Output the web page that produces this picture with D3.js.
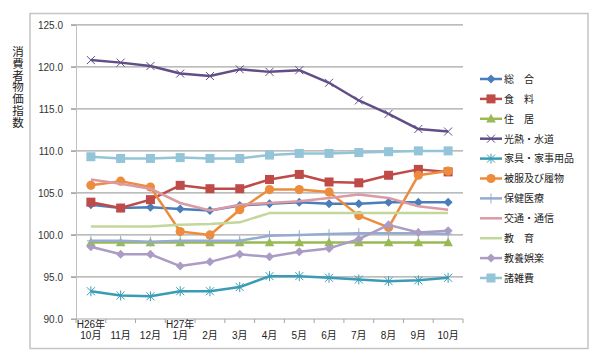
<!DOCTYPE html>
<html><head><meta charset="utf-8">
<script src="https://cdn.jsdelivr.net/npm/d3@7"></script>
<style>
html,body{margin:0;padding:0;background:#fff;}
svg{display:block;}
text{font-family:"Liberation Sans","Noto Sans CJK JP",sans-serif;}
</style></head>
<body>
<svg id="c" width="600" height="360"></svg>
<script>
// ---- data ----
const months = ["10月","11月","12月","1月","2月","3月","4月","5月","6月","7月","8月","9月","10月"];
const years  = ["H26年","","","H27年","","","","","","","","",""];
const yTicks = [90,95,100,105,110,115,120,125];
const seriesNames = ["総　合","食　料","住　居","光熱・水道","家具・家事用品","被服及び履物","保健医療","交通・通信","教　育","教養娯楽","諸雑費"];
const sogo     = [103.6,103.2,103.3,103.1,102.9,103.5,103.7,103.9,103.7,103.7,103.9,103.9,103.9];
const shokuryo = [103.9,103.2,104.2,105.9,105.5,105.5,106.6,107.2,106.3,106.2,107.1,107.8,107.5];
const jukyo    = [99.1,99.1,99.1,99.1,99.1,99.1,99.1,99.1,99.1,99.1,99.1,99.1,99.1];
const konetsu  = [120.8,120.5,120.1,119.2,118.9,119.7,119.4,119.6,118.1,116.0,114.4,112.6,112.3];
const kagu     = [93.3,92.8,92.7,93.3,93.3,93.8,95.1,95.1,94.9,94.7,94.5,94.6,94.9];
const hifuku   = [105.9,106.4,105.7,100.4,100.0,103.0,105.4,105.4,105.1,102.3,100.9,107.1,107.6];
const hoken    = [99.3,99.3,99.2,99.3,99.3,99.3,99.9,100.0,100.1,100.2,100.2,100.2,100.1];
const kotsu    = [106.6,106.1,105.5,103.8,102.9,103.6,103.8,104.0,104.4,104.8,104.4,103.4,103.0];
const kyoiku   = [101.0,101.0,101.0,101.2,101.3,101.5,102.6,102.6,102.6,102.6,102.6,102.6,102.6];
const kyoyo    = [98.6,97.7,97.7,96.3,96.8,97.7,97.4,98.0,98.4,99.5,101.2,100.3,100.5];
const shozappi = [109.3,109.1,109.1,109.2,109.1,109.1,109.5,109.7,109.7,109.8,109.9,110.0,110.0];
const seriesValues = [sogo,shokuryo,jukyo,konetsu,kagu,hifuku,hoken,kotsu,kyoiku,kyoyo,shozappi];

// ---- styles ----
const styles = [
  {color:"#4a7ebb", marker:"diamond"},
  {color:"#be4b48", marker:"square"},
  {color:"#98b954", marker:"triangle"},
  {color:"#604e86", marker:"x"},
  {color:"#3a9cb4", marker:"star"},
  {color:"#ec8c3c", marker:"circle"},
  {color:"#95abd0", marker:"plus"},
  {color:"#db9aa4", marker:"none"},
  {color:"#c3d69b", marker:"none"},
  {color:"#ab9cc6", marker:"diamond"},
  {color:"#93c4d7", marker:"square"}
];

const svg = d3.select("#c");
// outer frame
svg.append("rect").attr("x",30).attr("y",13.5).attr("width",558).attr("height",335)
  .attr("fill","#fff").attr("stroke","#c4c4c4").attr("stroke-width",1.5);

const x = d3.scaleBand().domain(d3.range(months.length)).range([76,463]);
const y = d3.scaleLinear().domain([90,125]).range([319,24.8]);
const cx = i => x(i) + x.bandwidth()/2;

// gridlines
const g = svg.append("g");
g.selectAll("line.grid").data(yTicks.filter(t=>t>90)).join("line")
  .attr("x1",71).attr("x2",463).attr("y1",d=>y(d)).attr("y2",d=>y(d))
  .attr("stroke","#a6a6a6").attr("stroke-width",1.2);

// y axis
const yAxis = d3.axisLeft(y).tickValues(yTicks).tickFormat(d3.format(".1f")).tickSize(5).tickPadding(8);
const ya = svg.append("g").attr("transform","translate(76,0)").call(yAxis);
ya.select(".domain").attr("stroke","#bfbfbf");
ya.selectAll(".tick line").attr("stroke","#a6a6a6");
ya.selectAll("text").attr("font-size",10).attr("fill","#333");

// x axis
const xa = svg.append("g").attr("transform","translate(0,319)");
xa.append("line").attr("x1",71).attr("x2",463).attr("stroke","#a6a6a6").attr("stroke-width",1.2);
xa.selectAll("line.tk").data(d3.range(months.length+1)).join("line")
  .attr("x1",i=>76+i*x.bandwidth()).attr("x2",i=>76+i*x.bandwidth())
  .attr("y1",0).attr("y2",4).attr("stroke","#a6a6a6");
xa.selectAll("text.yr").data(years).join("text")
  .attr("x",(d,i)=>cx(i)).attr("y",9).attr("text-anchor","middle")
  .attr("font-size",10).attr("fill","#222").text(d=>d);
xa.selectAll("text.mo").data(months).join("text")
  .attr("x",(d,i)=>cx(i)).attr("y",20).attr("text-anchor","middle")
  .attr("font-size",10).attr("fill","#222").text(d=>d);

// y title (vertical)
const title = "消費者物価指数";
svg.append("text").attr("font-size",11.5).attr("fill","#222")
  .attr("font-family","'Noto Sans CJK JP',sans-serif")
  .selectAll("tspan").data(Array.from(title)).join("tspan")
  .attr("x",18).attr("text-anchor","middle").attr("y",(d,i)=>56+i*11.8).text(d=>d);

function drawMarker(sel, type, color, px, py){
  const s = 4;
  if(type==="diamond"){
    sel.append("path").attr("d",`M${px},${py-4.5}L${px+4.5},${py}L${px},${py+4.5}L${px-4.5},${py}Z`).attr("fill",color);
  } else if(type==="square"){
    sel.append("rect").attr("x",px-4.5).attr("y",py-4.5).attr("width",9).attr("height",9).attr("fill",color);
  } else if(type==="triangle"){
    sel.append("path").attr("d",`M${px},${py-5}L${px+4.8},${py+3.8}L${px-4.8},${py+3.8}Z`).attr("fill",color);
  } else if(type==="circle"){
    sel.append("circle").attr("cx",px).attr("cy",py).attr("r",4.6).attr("fill",color);
  } else if(type==="x"){
    sel.append("path").attr("d",`M${px-s},${py-s}L${px+s},${py+s}M${px-s},${py+s}L${px+s},${py-s}`).attr("stroke",color).attr("stroke-width",1);
  } else if(type==="star"){
    sel.append("path").attr("d",`M${px-s},${py-s}L${px+s},${py+s}M${px-s},${py+s}L${px+s},${py-s}M${px},${py-5}L${px},${py+5}`).attr("stroke",color).attr("stroke-width",1);
  } else if(type==="plus"){
    sel.append("path").attr("d",`M${px-s},${py}L${px+s},${py}M${px},${py-5}L${px},${py+5}`).attr("stroke",color).attr("stroke-width",1);
  }
}

// series
const line = d3.line().x((d,i)=>cx(i)).y(d=>y(d));
seriesValues.forEach((vals,k)=>{
  const st = styles[k];
  const sg = svg.append("g");
  sg.append("path").attr("d",line(vals)).attr("fill","none")
    .attr("stroke",st.color).attr("stroke-width",2.5).attr("stroke-linejoin","round");
  vals.forEach((v,i)=>drawMarker(sg, st.marker, st.color, cx(i), y(v)));
});

// legend
const lg = svg.append("g");
seriesNames.forEach((name,k)=>{
  const st = styles[k];
  const ly = 79 + k*19.9;
  lg.append("line").attr("x1",480).attr("x2",502).attr("y1",ly).attr("y2",ly)
    .attr("stroke",st.color).attr("stroke-width",2.5);
  drawMarker(lg, st.marker, st.color, 491, ly);
  lg.append("text").attr("x",504).attr("y",ly+3.8).attr("font-size",10)
    .attr("fill","#222").attr("font-family","'Noto Sans CJK JP',sans-serif").text(name);
});
</script>
</body></html>
